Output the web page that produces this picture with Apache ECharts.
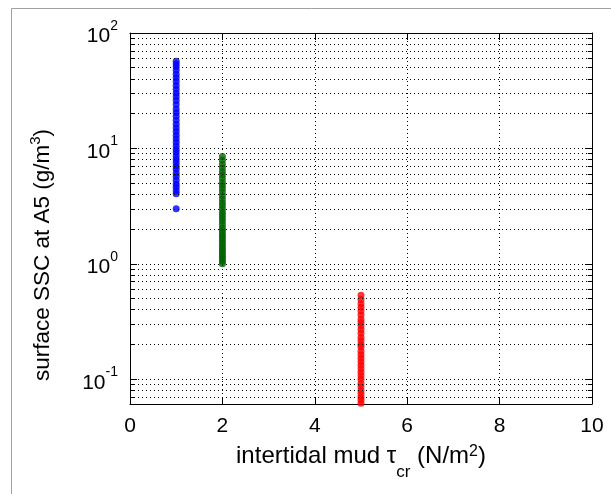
<!DOCTYPE html>
<html><head><meta charset="utf-8">
<script src="https://cdn.jsdelivr.net/npm/echarts@6/dist/echarts.min.js"></script>
<style>html,body{margin:0;padding:0;background:#fff}#c{width:611px;height:494px}</style>
</head><body><div id="c"></div>
<script>
// ---- data ----
const blueX = 1;
const blueSSC = [3.0, 4.05, 4.3, 4.6, 4.9, 5.3, 5.7, 6.1, 6.6, 7.0, 7.5, 8.0, 8.6, 9.2, 9.8, 10.5, 11.3, 12.1, 13.0, 14.0, 15.0, 16.2, 17.5, 19.0, 20.5, 22.0, 24.0, 26.0, 28.0, 30.0, 32.5, 35.0, 38.0, 41.0, 44.0, 47.5, 51.0, 54.0, 57.0];
const greenX = 2;
const greenSSC = [1.0, 1.05, 1.1, 1.15, 1.2, 1.26, 1.32, 1.38, 1.45, 1.52, 1.6, 1.68, 1.76, 1.85, 1.95, 2.05, 2.2, 2.35, 2.5, 2.65, 2.8, 3.0, 3.2, 3.4, 3.65, 3.9, 4.2, 4.5, 4.8, 5.1, 5.5, 5.9, 6.3, 6.8, 7.3, 7.9, 8.5];
const redX = 5;
const redSSC = [0.062, 0.066, 0.07, 0.075, 0.08, 0.086, 0.092, 0.1, 0.107, 0.115, 0.123, 0.132, 0.142, 0.152, 0.163, 0.175, 0.19, 0.2, 0.215, 0.23, 0.25, 0.27, 0.29, 0.31, 0.33, 0.36, 0.39, 0.42, 0.45, 0.49, 0.535];
const xMin = 0, xMax = 10, xStep = 2;
const yMin = 0.061, yMax = 100;
const yMinorTicks = [0.07, 0.08, 0.09, 0.2, 0.3, 0.4, 0.5, 0.6, 0.7, 0.8, 0.9, 2, 3, 4, 5, 6, 7, 8, 9, 20, 30, 40, 50, 60, 70, 80, 90];
const xTitleParts = ['intertidal mud τ', 'cr', ' (N/m', '2', ')'];
const yTitleParts = ['surface SSC at A5 (g/m', '3', ')'];

// ---- chart ----
const FONT = '"Liberation Sans", Arial, Helvetica, sans-serif';
const chart = echarts.init(document.getElementById('c'), null, {renderer: 'canvas'});

function powLabel(v) {
  const l = Math.log10(v);
  const e = Math.round(l);
  if (Math.abs(l - e) > 1e-6) return '';
  return '{b|10}{s|' + e + '}';
}
const dotted = {color: '#000', width: 1, type: [1, 3]};
const axisLine = {show: true, onZero: false, lineStyle: {color: '#000', width: 1}};
const tick = {show: true, inside: true, length: 7, lineStyle: {color: '#000', width: 1}};

function pts(x, arr) { return arr.map(v => [x, v]); }
const scatterBase = {type: 'scatter', symbol: 'circle', symbolSize: 7, silent: true, z: 3, animation: false, xAxisIndex: 0, yAxisIndex: 0};

const minorTickW = 0.09;
chart.setOption({
  backgroundColor: '#fff',
  animation: false,
  grid: {left: 130, right: 19, top: 33, bottom: 90, containLabel: false},
  xAxis: [
    {type: 'value', min: xMin, max: xMax, interval: xStep, position: 'bottom',
     axisLine: axisLine, axisTick: tick,
     axisLabel: {fontSize: 21, color: '#000', fontFamily: FONT, margin: 12},
     splitLine: {show: true, lineStyle: dotted}},
    {type: 'value', min: xMin, max: xMax, interval: xStep, position: 'top',
     axisLine: axisLine, axisTick: tick, axisLabel: {show: false}, splitLine: {show: false}}
  ],
  yAxis: [
    {type: 'log', logBase: 10, min: yMin, max: yMax, position: 'left',
     axisLine: axisLine, axisTick: tick,
     axisLabel: {formatter: powLabel, margin: 12, color: '#000', fontFamily: FONT,
       rich: {
         b: {fontSize: 21, fontFamily: FONT, color: '#000', lineHeight: 28, verticalAlign: 'bottom'},
         s: {fontSize: 14, fontFamily: FONT, color: '#000', lineHeight: 10, verticalAlign: 'top'}
       }},
     splitLine: {show: true, lineStyle: dotted}},
    {type: 'log', logBase: 10, min: yMin, max: yMax, position: 'right',
     axisLine: axisLine, axisTick: tick, axisLabel: {show: false}, splitLine: {show: false}}
  ],
  series: [
    {type: 'scatter', data: [], silent: true, z: 1, xAxisIndex: 0, yAxisIndex: 0,
     markLine: {silent: true, symbol: 'none', animation: false, label: {show: false},
       lineStyle: dotted, emphasis: {disabled: true},
       data: yMinorTicks.map(v => ({yAxis: v}))}},
    {type: 'scatter', data: [], silent: true, z: 1, xAxisIndex: 0, yAxisIndex: 0,
     markLine: {silent: true, symbol: 'none', animation: false, label: {show: false},
       lineStyle: {color: '#000', width: 1, type: 'solid'}, emphasis: {disabled: true},
       data: yMinorTicks.map(v => [{coord: [xMin, v]}, {coord: [xMin + minorTickW, v]}])
         .concat(yMinorTicks.map(v => [{coord: [xMax - minorTickW, v]}, {coord: [xMax, v]}]))}},
    Object.assign({}, scatterBase, {data: pts(blueX, blueSSC), itemStyle: {color: '#0000ff'}}),
    Object.assign({}, scatterBase, {data: pts(greenX, greenSSC), itemStyle: {color: '#006400'}}),
    Object.assign({}, scatterBase, {data: pts(redX, redSSC), itemStyle: {color: '#ff0000'}})
  ],
  graphic: [
    {type: 'rect', silent: true, shape: {x: 11.5, y: 8.5, width: 700, height: 600},
     style: {fill: null, stroke: '#a0a0a0', lineWidth: 1}},
    {type: 'text', silent: true, x: 361, y: 472,
     style: {text: '{a|' + xTitleParts[0] + '}{sub|' + xTitleParts[1] + '}{a|' + xTitleParts[2] + '}{sup|' + xTitleParts[3] + '}{a|' + xTitleParts[4] + '}',
       align: 'center', verticalAlign: 'middle', fill: '#000', fontFamily: FONT, fontSize: 24,
       rich: {
         a: {fontSize: 24, fontFamily: FONT, fill: '#000', lineHeight: 27, verticalAlign: 'top'},
         sub: {fontSize: 17, fontFamily: FONT, fill: '#000', lineHeight: 56, verticalAlign: 'middle'},
         sup: {fontSize: 16, fontFamily: FONT, fill: '#000', lineHeight: 10, verticalAlign: 'top'}
       }}},
    {type: 'text', silent: true, x: 41, y: 255, rotation: Math.PI / 2,
     style: {text: '{a|' + yTitleParts[0] + '}{sup|' + yTitleParts[1] + '}{a|' + yTitleParts[2] + '}',
       align: 'center', verticalAlign: 'middle', fill: '#000', fontFamily: FONT, fontSize: 22.5,
       rich: {
         a: {fontSize: 22.5, fontFamily: FONT, fill: '#000', lineHeight: 26, verticalAlign: 'bottom'},
         sup: {fontSize: 15, fontFamily: FONT, fill: '#000', lineHeight: 10, verticalAlign: 'top'}
       }}}
  ]
});
</script></body></html>
